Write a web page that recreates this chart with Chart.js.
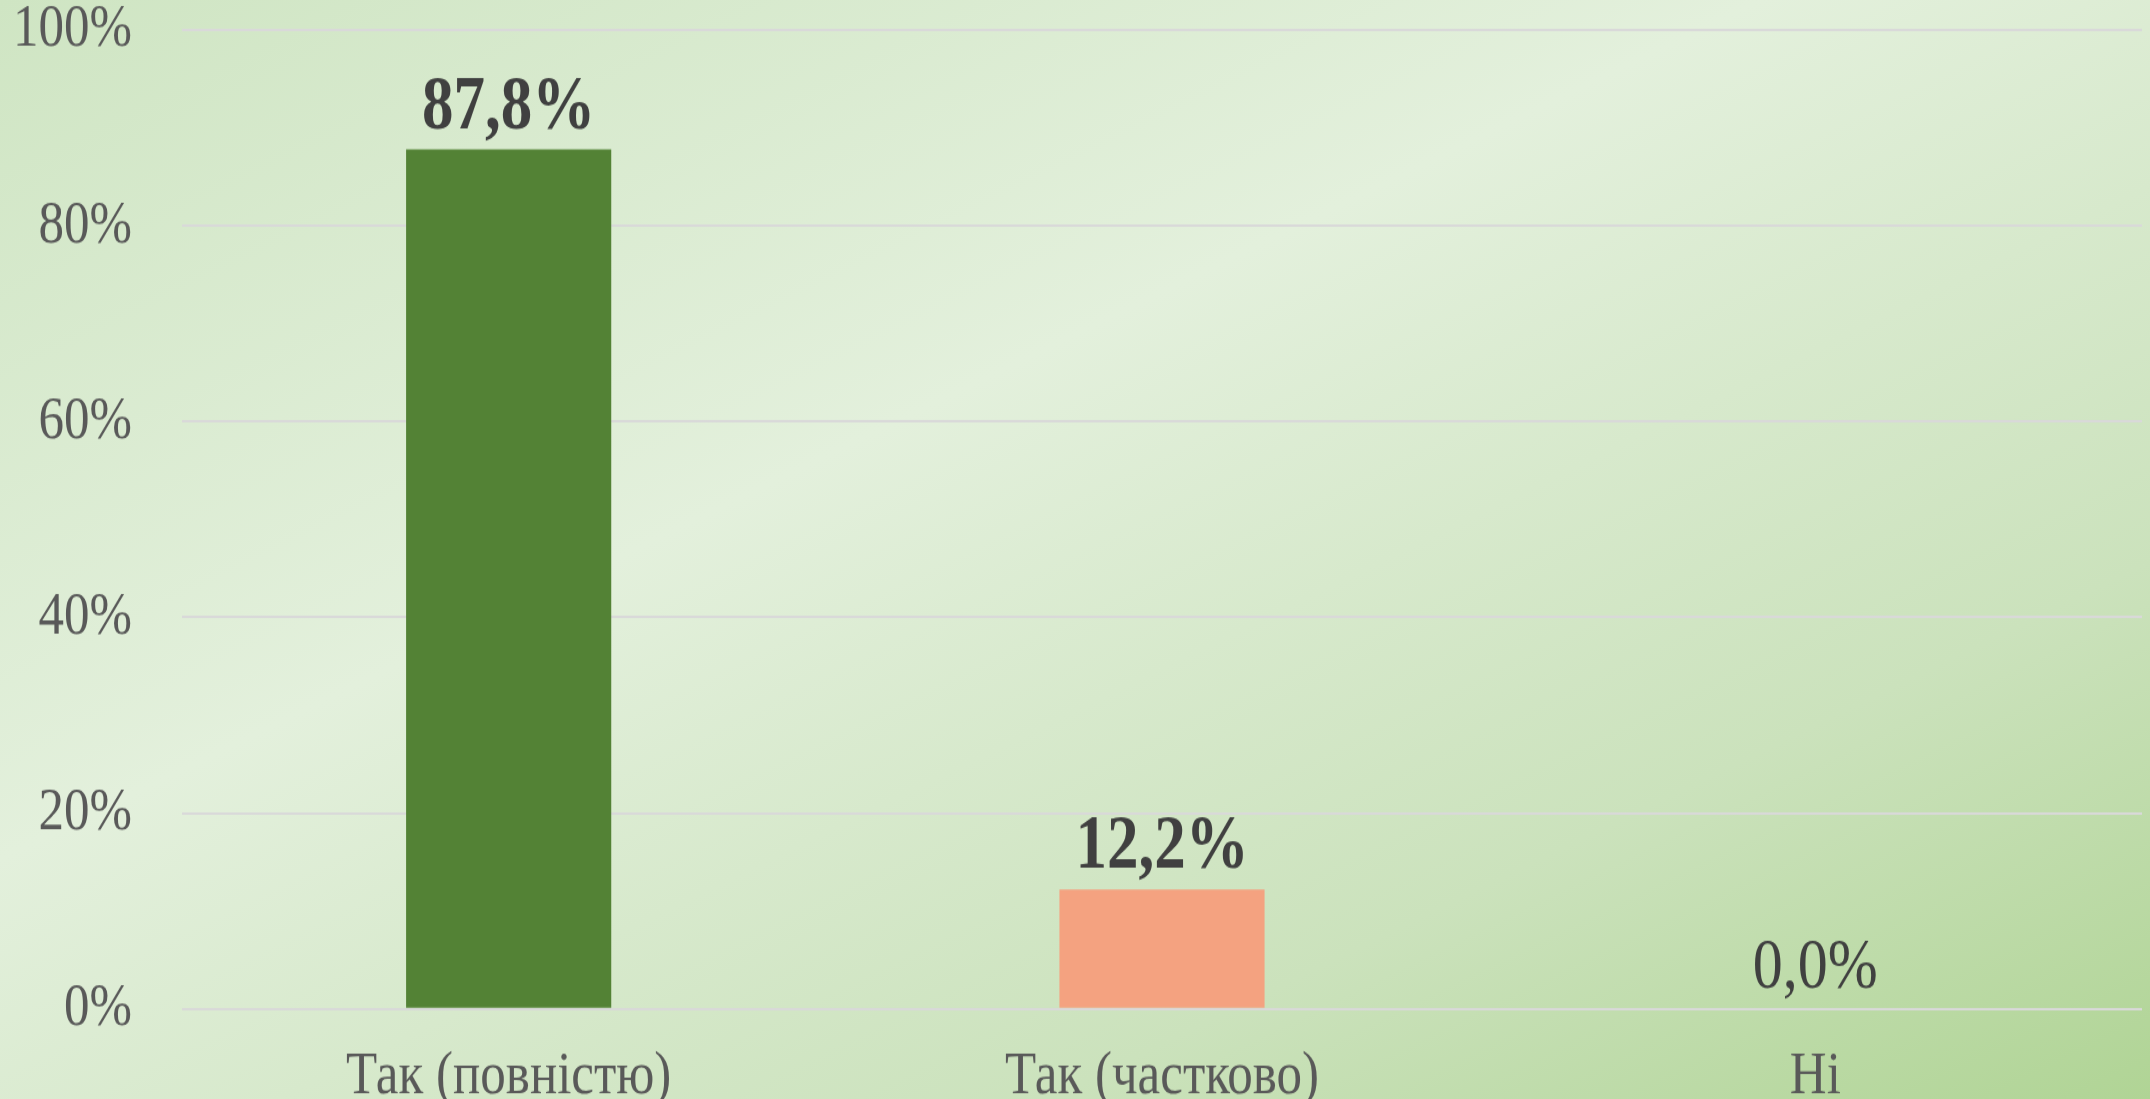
<!DOCTYPE html>
<html>
<head>
<meta charset="utf-8">
<script src="https://cdn.jsdelivr.net/npm/chart.js@4.4.0/dist/chart.umd.min.js"></script>
<style>
  html, body {
    margin: 0;
    padding: 0;
    width: 2150px;
    height: 1099px;
    overflow: hidden;
    background: linear-gradient(154deg, #cfe5c3 0%, #e3f0dc 40%, #cbe2bc 75%, #b0d495 100%);
  }
  /* the original picture is a bit stretched vertically, so the chart is too */
  .chart-wrap {
    width: 2150px;
    height: 946px;
    transform: scaleY(1.2);
    transform-origin: 0 0;
  }
</style>
</head>
<body>
<div class="chart-wrap">
  <canvas id="bar-chart-canvas"></canvas>
</div>
<script>
const categories = ['Так (повністю)', 'Так (частково)', 'Ні'];
const shares = [87.8, 12.2, 0.0];
const barColors = ['#538235', '#f4a280', '#538235'];
const yTicks = [0, 20, 40, 60, 80, 100];

const serif = "'Liberation Serif', 'Times New Roman', serif";

// value labels above each bar (bold, except the zero one)
const valueLabels = {
  id: 'valueLabels',
  afterDatasetsDraw(chart) {
    const ctx = chart.ctx;
    const meta = chart.getDatasetMeta(0);
    ctx.save();
    ctx.fillStyle = '#404040';
    ctx.textAlign = 'center';
    ctx.textBaseline = 'alphabetic';
    meta.data.forEach((bar, i) => {
      const v = shares[i];
      ctx.font = (v > 0 ? 'bold 63px ' : '60px ') + serif;
      const txt = v.toFixed(1).replace('.', ',') + '%';
      ctx.fillText(txt, bar.x, bar.y - 18);
    });
    ctx.restore();
  }
};

new Chart(document.getElementById('bar-chart-canvas'), {
  type: 'bar',
  data: {
    labels: categories,
    datasets: [{
      data: shares,
      backgroundColor: barColors,
      borderWidth: 0,
      categoryPercentage: 1,
      barPercentage: 0.314,
    }],
  },
  options: {
    responsive: true,
    maintainAspectRatio: false,
    animation: false,
    layout: { padding: { left: 0, right: 8, top: 0, bottom: 0 } },
    plugins: {
      legend: { display: false },
      tooltip: { enabled: false },
    },
    scales: {
      x: {
        grid: { display: false },
        border: { display: false },
        ticks: {
          color: '#595959',
          padding: 18,
          font: { family: serif, size: 51 },
        },
      },
      y: {
        min: 0,
        max: 100,
        afterBuildTicks(scale) {
          scale.ticks = yTicks.map(v => ({ value: v }));
        },
        afterFit(scale) {
          scale.width = 182;
          scale.paddingTop = 25;
          scale.paddingBottom = 0;
        },
        grid: { color: '#d9d9d9', lineWidth: 2, drawTicks: false },
        border: { display: false },
        ticks: {
          color: '#595959',
          padding: 50,
          font: { family: serif, size: 51 },
          callback: (v) => v + '%',
        },
      },
    },
  },
  plugins: [valueLabels],
});
</script>
</body>
</html>
